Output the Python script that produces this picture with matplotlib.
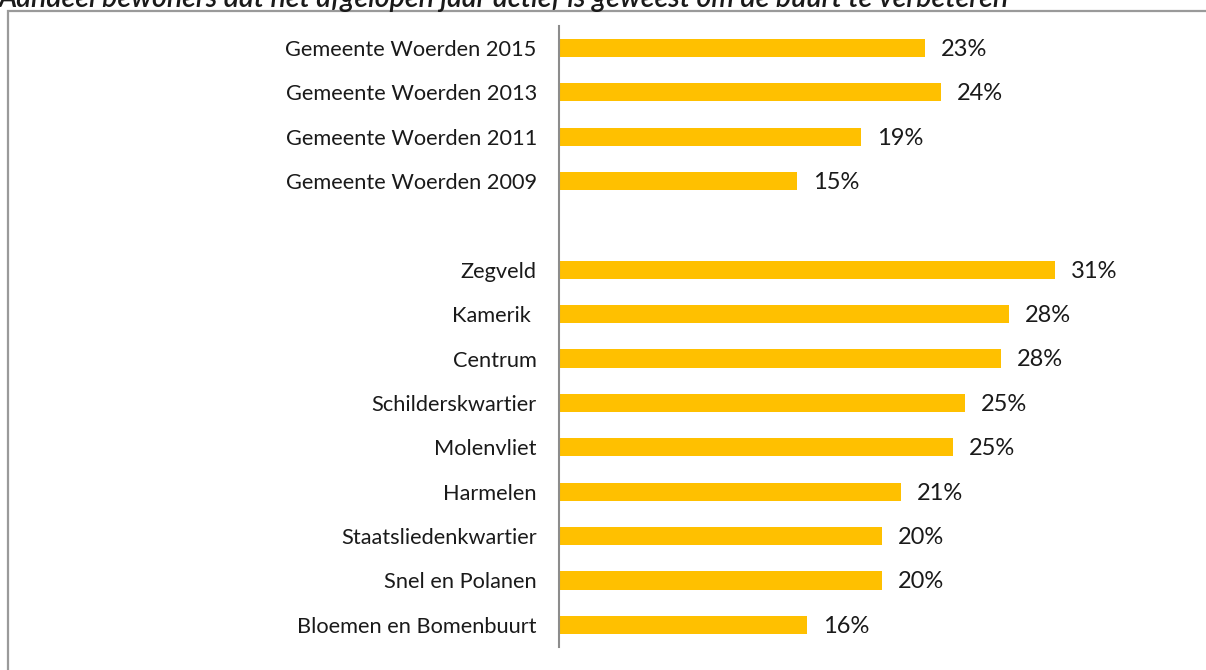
import matplotlib
matplotlib.use("Agg")
import matplotlib.pyplot as plt
from matplotlib.patches import Rectangle

title = "Aandeel bewoners dat het afgelopen jaar actief is geweest om de buurt te verbeteren"
categories = ["Gemeente Woerden 2015", "Gemeente Woerden 2013", "Gemeente Woerden 2011",
              "Gemeente Woerden 2009", "", "Zegveld", "Kamerik ", "Centrum",
              "Schilderskwartier", "Molenvliet", "Harmelen", "Staatsliedenkwartier",
              "Snel en Polanen", "Bloemen en Bomenbuurt"]
values = [22.9, 23.9, 18.9, 14.9, None, 31.0, 28.1, 27.6, 25.4, 24.6, 21.4, 20.2, 20.2, 15.5]
labels = ["23%", "24%", "19%", "15%", "", "31%", "28%", "28%", "25%", "25%", "21%", "20%", "20%", "16%"]

W, H = 1206, 670
fig = plt.figure(figsize=(W / 100, H / 100), dpi=100)
fig.patch.set_facecolor("white")

font = "Lato"

# outer box
fig.add_artist(Rectangle((8 / W, -0.1), 1.2, 1 - 11 / H + 0.1, transform=fig.transFigure,
                         fill=False, edgecolor="#9a9a9a", linewidth=1.6))

# title (partially clipped at top, as in the reference)
fig.text(-2 / W, 1 - 7 / H, title, ha="left", va="baseline", fontsize=20.5,
         style="italic", fontweight="semibold", family=font, color="#1a1a1a")

ax = fig.add_axes([559 / W, 1 - 647 / H, 600 / W, (647 - 25.8) / H])
ax.set_xlim(0, 37.5)
ax.set_ylim(len(categories) - 0.5, -0.5)

ypos = list(range(len(categories)))
for y, v, lab in zip(ypos, values, labels):
    if v is None:
        continue
    ax.barh(y, v, height=0.41, color="#FFC000")
    ax.annotate(lab, (v, y), xytext=(11.5, -1), textcoords="offset points",
                ha="left", va="center", fontsize=17, family=font, color="#1a1a1a")

ax.set_yticks(ypos)
ax.set_yticklabels(categories, fontsize=15.7, family=font, color="#1a1a1a")
ax.tick_params(axis="y", length=0, pad=16)
ax.set_xticks([])
for s in ["top", "right", "bottom"]:
    ax.spines[s].set_visible(False)
ax.spines["left"].set_color("#8c8c8c")
ax.spines["left"].set_linewidth(1.5)
ax.set_facecolor("none")

fig.savefig("out.png", dpi=100, facecolor="white")
